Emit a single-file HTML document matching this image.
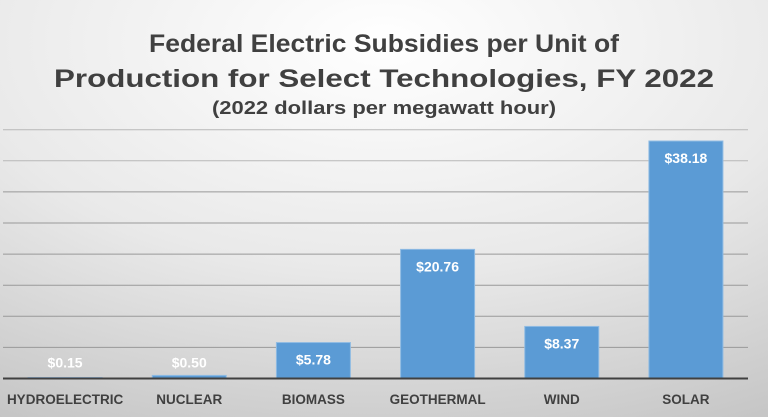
<!DOCTYPE html>
<html><head><meta charset="utf-8"><style>
body{margin:0;width:768px;height:417px;overflow:hidden}
svg{display:block;font-family:"Liberation Sans",sans-serif}
</style></head><body>
<svg id="chart" width="768" height="417">
<defs>
<radialGradient id="bg" cx="0.5" cy="0.1" r="1.1">
<stop offset="0" stop-color="#ffffff"/><stop offset="0.5" stop-color="#e9e9e9"/><stop offset="1" stop-color="#c0c0c0"/>
</radialGradient>
</defs>
<rect width="768" height="417" fill="url(#bg)"/>
<g id="grid"></g>
<g id="bars"></g>
<text x="384" y="52" text-anchor="middle" font-size="25" font-weight="bold" fill="#404040" textLength="470" lengthAdjust="spacingAndGlyphs">Federal Electric Subsidies per Unit of</text>
<text x="384" y="87" text-anchor="middle" font-size="25" font-weight="bold" fill="#404040" textLength="660" lengthAdjust="spacingAndGlyphs">Production for Select Technologies, FY 2022</text>
<text x="384" y="114" text-anchor="middle" font-size="18" font-weight="bold" fill="#404040" textLength="344" lengthAdjust="spacingAndGlyphs">(2022 dollars per megawatt hour)</text>
</svg>
<script>
const categories=["HYDROELECTRIC","NUCLEAR","BIOMASS","GEOTHERMAL","WIND","SOLAR"];
const values=[0.15,0.50,5.78,20.76,8.37,38.18];
const valueLabels=["$0.15","$0.50","$5.78","$20.76","$8.37","$38.18"];
const gridTicks=[5,10,15,20,25,30,35,40];
const NS="http://www.w3.org/2000/svg";
const x0=3,x1=748,base=378.5,pxPerUnit=6.22;
const band=(x1-x0)/categories.length;
function y(v){return base-v*pxPerUnit;}
function xc(i){return x0+band*(i+0.5);}
function mk(t,a,p){const e=document.createElementNS(NS,t);for(const k in a)e.setAttribute(k,a[k]);p.appendChild(e);return e;}
const grid=document.getElementById('grid'),bars=document.getElementById('bars');
gridTicks.forEach(t=>{
 const l=mk('line',{x1:x0,x2:x1,y1:y(t),y2:y(t),stroke:t>=35?'#b8b8b8':'#999999','stroke-width':1},grid);
 
 
});
const bw=74;
values.forEach((v,i)=>{
 const r=mk('rect',{x:xc(i)-bw/2,y:y(v),width:bw,height:base-y(v),fill:'#5b9bd5',stroke:'#8fbbe3','stroke-width':1},bars);
 
 
 const h=base-y(v);
 const ly=h>20?y(v)+22:base-11;
 const t=mk('text',{x:xc(i),y:ly,'text-anchor':'middle','font-size':14,'font-weight':'bold',fill:'#ffffff'},bars);
 t.textContent=valueLabels[i];
 
 
 const c=mk('text',{x:xc(i),y:404,'text-anchor':'middle','font-size':13.5,'font-weight':'bold',fill:'#404040'},bars);
 c.textContent=categories[i];
 
 
});
const ax=mk('line',{x1:x0,x2:x1,y1:base,y2:base,stroke:'#404040','stroke-width':2},bars);


</script>
</body></html>
